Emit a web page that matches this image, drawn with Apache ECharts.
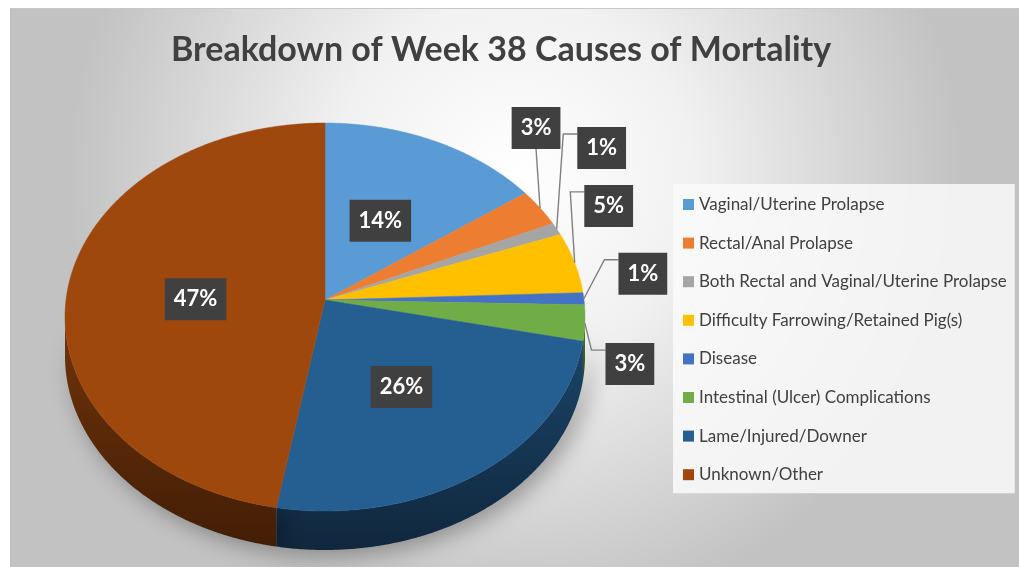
<!DOCTYPE html>
<html>
<head>
<meta charset="utf-8">
<script src="https://cdn.jsdelivr.net/npm/echarts@6/dist/echarts.min.js"></script>
<style>
  html, body { margin: 0; padding: 0; background: #ffffff; width: 1019px; height: 567px; overflow: hidden; }
  #chart { position: absolute; left: 10px; top: 8px; width: 1009px; height: 559px;
           border-left: 1px solid #bdbdbd; border-top: 1px solid #c8c8c8; box-sizing: border-box; }
</style>
</head>
<body>
<div id="chart"></div>
<script>
// ---- data ----
const categories = [
  'Vaginal/Uterine Prolapse',
  'Rectal/Anal Prolapse',
  'Both Rectal and Vaginal/Uterine Prolapse',
  'Difficulty Farrowing/Retained Pig(s)',
  'Disease',
  'Intestinal (Ulcer) Complications',
  'Lame/Injured/Downer',
  'Unknown/Other'
];
const values = [14, 3, 1, 5, 1, 3, 26, 47];
const titleText = 'Breakdown of Week 38 Causes of Mortality';

// ---- styles / layout ----
const colors = ['#5B9BD5', '#ED7D31', '#A5A5A5', '#FFC000', '#4472C4', '#70AD47', '#255E91', '#9E480E'];
// label placement: null = inside slice, otherwise offset of box centre from rim anchor
const labelOffsets = [null, [-4, -80], [45, -81], [34, -57], [59, -25], [45, 41], null, null];
const insideFrac = 0.5;
const CX = 314, CY = 308, RX = 260, RY = 194, DEPTH = 39, APEX_DY = -17;
const FONT = 'Lato, "Open Sans", sans-serif';
const LABEL_FONT_SIZE = 22;

const total = values.reduce((a, b) => a + b, 0);
const starts = [];
(function () { let acc = 0; values.forEach(v => { starts.push(acc / total * Math.PI * 2); acc += v; }); })();

function rimPt(t, dy) { return [CX + RX * Math.sin(t), CY - RY * Math.cos(t) + (dy || 0)]; }
function arc(a, b, dy) {
  const n = Math.max(2, Math.ceil((b - a) / (Math.PI / 360)));
  const pts = [];
  for (let i = 0; i <= n; i++) pts.push(rimPt(a + (b - a) * i / n, dy));
  return pts;
}
function shade(hex, f) {
  const n = parseInt(hex.slice(1), 16);
  const r = Math.round(((n >> 16) & 255) * f), g = Math.round(((n >> 8) & 255) * f), b = Math.round((n & 255) * f);
  return 'rgb(' + r + ',' + g + ',' + b + ')';
}
const measureCtx = document.createElement('canvas').getContext('2d');
measureCtx.font = 'bold ' + LABEL_FONT_SIZE + 'px ' + FONT;

function renderItem(params, api) {
  const i = params.dataIndex;
  const v = api.value(0);
  const s = starts[i];
  const e = s + v / total * Math.PI * 2;
  const color = colors[i];
  const apex = [CX, CY + APEX_DY];
  const children = [];

  // side wall (front half only)
  const a = Math.max(s, Math.PI / 2), b = Math.min(e, Math.PI * 3 / 2);
  if (a < b) {
    const top = arc(a, b, 0);
    const bot = arc(a, b, DEPTH).reverse();
    children.push({
      type: 'polygon',
      shape: { points: top.concat(bot) },
      style: {
        fill: { type: 'linear', x: 0, y: 0, x2: 0, y2: 1, colorStops: [
          { offset: 0, color: shade(color, 0.72) }, { offset: 1, color: shade(color, 0.42) }] },
        shadowBlur: 22, shadowColor: 'rgba(0,0,0,0.32)', shadowOffsetX: 6, shadowOffsetY: 6
      },
      z2: 1
    });
  }
  // top face
  children.push({
    type: 'polygon',
    shape: { points: [apex].concat(arc(s, e, 0)) },
    style: { fill: color, stroke: color, lineWidth: 0.5 },
    z2: 5
  });

  // label
  const txt = v + '%';
  const tw = measureCtx.measureText(txt).width;
  const padH = 9, padV = 10;
  const bw = tw + padH * 2, bh = LABEL_FONT_SIZE + padV * 2;
  const mid = (s + e) / 2;
  let lx, ly;
  const off = labelOffsets[i];
  if (!off) {
    const r = rimPt(mid, 0);
    lx = apex[0] + (r[0] - apex[0]) * insideFrac;
    ly = apex[1] + (r[1] - apex[1]) * insideFrac;
  } else {
    const anchor = rimPt(mid, 0);
    lx = anchor[0] + off[0];
    ly = anchor[1] + off[1];
    let pts;
    if (Math.abs(off[0]) < bw / 2) {
      pts = [anchor, [lx, ly + bh / 2]];
    } else {
      const ax = lx - bw / 2, ay = ly - bh / 2 + 7;
      pts = [anchor, [ax - 14, ay], [ax, ay]];
    }
    children.push({
      type: 'polyline',
      shape: { points: pts },
      style: { stroke: '#808080', lineWidth: 1.4, fill: null },
      z2: 20
    });
  }
  children.push({
    type: 'text',
    x: lx, y: ly,
    style: {
      text: txt,
      align: 'center', verticalAlign: 'middle',
      fill: '#ffffff',
      font: 'bold ' + LABEL_FONT_SIZE + 'px ' + FONT,
      lineHeight: LABEL_FONT_SIZE,
      backgroundColor: '#404040',
      padding: [padV, padH],
      boxShadowBlur: 5, boxShadowColor: 'rgba(0,0,0,0.45)', boxShadowOffsetX: 2, boxShadowOffsetY: 3
    },
    z2: 30
  });
  return { type: 'group', children: children };
}

const chart = echarts.init(document.getElementById('chart'), null, { renderer: 'canvas' });
chart.setOption({
  animation: false,
  backgroundColor: {
    type: 'radial', x: 0.5, y: 0.3, r: 0.8,
    colorStops: [{ offset: 0, color: '#ffffff' }, { offset: 0.4, color: '#f1f1f1' }, { offset: 1, color: '#c2c2c2' }]
  },
  title: {
    text: titleText,
    left: 155, top: 19,
    textStyle: { fontFamily: FONT, fontWeight: 'bold', fontSize: 34, color: '#404040' }
  },
  color: colors,
  legend: {
    orient: 'vertical',
    left: 662, top: 175,
    selectedMode: false,
    itemWidth: 11, itemHeight: 11,
    itemGap: 21.6,
    icon: 'rect',
    padding: [12, 8, 10, 10],
    backgroundColor: 'rgba(250,250,250,0.85)',
    textStyle: { fontFamily: FONT, fontSize: 17, color: '#404040' },
    data: categories
  },
  series: [
    {
      type: 'custom',
      coordinateSystem: 'none',
      renderItem: renderItem,
      silent: true,
      data: values.map((v, i) => ({ name: categories[i], value: [v] }))
    },
    {
      // invisible pie so the legend lists each category with its colour
      type: 'pie',
      center: [-200, -200], radius: [0, 1],
      silent: true,
      label: { show: false }, labelLine: { show: false },
      data: values.map((v, i) => ({ name: categories[i], value: v }))
    }
  ]
});
</script>
</body>
</html>
